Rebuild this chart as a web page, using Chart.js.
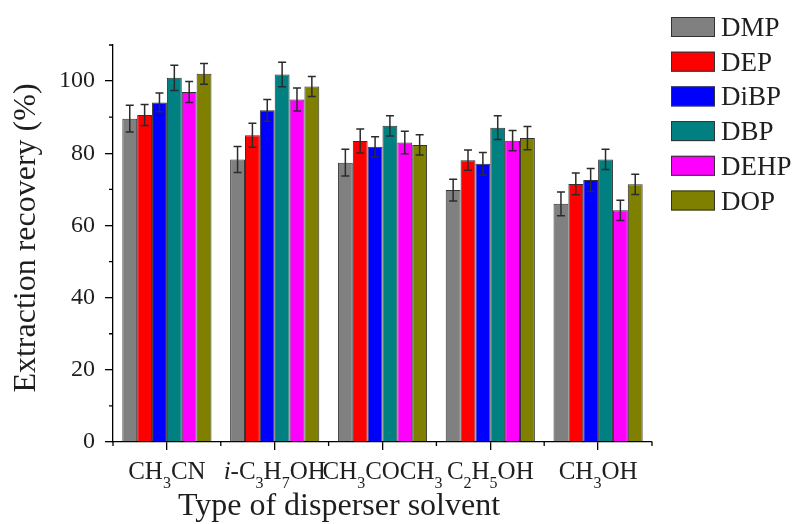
<!DOCTYPE html>
<html>
<head>
<meta charset="utf-8">
<script src="https://cdn.jsdelivr.net/npm/chart.js@4.4.0/dist/chart.umd.min.js"></script>
<style>
  html, body { margin: 0; padding: 0; background: #fff; }
  canvas { display: block; }
</style>
</head>
<body>
<canvas id="c" width="799" height="524"></canvas>
<script>
// Disperser solvents (digits are drawn as subscripts, a leading "i-" in italics)
const solvents = ['CH3CN', 'i-C3H7OH', 'CH3COCH3', 'C2H5OH', 'CH3OH'];
const seriesNames = ['DMP', 'DEP', 'DiBP', 'DBP', 'DEHP', 'DOP'];

// Extraction recovery (%) per solvent
const DMP  = [89.6, 78.3, 77.4, 69.8, 66.0];
const DEP  = [90.6, 85.0, 83.4, 78.1, 71.5];
const DiBP = [94.1, 91.9, 81.8, 77.1, 72.6];
const DBP  = [100.9, 101.8, 87.6, 87.1, 78.3];
const DEHP = [97.0, 94.9, 83.0, 83.5, 64.2];
const DOP  = [102.0, 98.5, 82.3, 84.2, 71.4];

// Standard deviations (error bars)
const errDMP  = [3.7, 3.6, 3.7, 3.0, 3.3];
const errDEP  = [2.9, 3.3, 3.3, 2.8, 3.0];
const errDiBP = [2.6, 3.0, 2.8, 3.1, 3.2];
const errDBP  = [3.5, 3.4, 2.8, 3.3, 2.8];
const errDEHP = [2.9, 3.2, 3.1, 2.8, 2.8];
const errDOP  = [2.9, 2.8, 2.8, 3.2, 2.8];

const yTickValues = [0, 20, 40, 60, 80, 100];
const yMinorValues = [10, 30, 50, 70, 90, 110];

const seriesValues = [DMP, DEP, DiBP, DBP, DEHP, DOP];
const seriesErrors = [errDMP, errDEP, errDiBP, errDBP, errDEHP, errDOP];
const seriesColors = ['#808080', '#ff0000', '#0000ff', '#008080', '#ff00ff', '#808000'];

const SERIF = '"Liberation Serif", "Times New Roman", serif';
const INK = '#1e1e1e';

// Error bars with caps
const errorBars = {
  id: 'errorBars',
  afterDatasetsDraw(chart) {
    const ctx = chart.ctx;
    const y = chart.scales.y;
    ctx.save();
    ctx.strokeStyle = '#2b2b2b';
    ctx.lineWidth = 1.5;
    chart.data.datasets.forEach((ds, i) => {
      const meta = chart.getDatasetMeta(i);
      meta.data.forEach((bar, j) => {
        const v = ds.data[j], e = ds.errors[j];
        const top = y.getPixelForValue(v + e);
        const bot = y.getPixelForValue(v - e);
        const x = bar.x;
        ctx.beginPath();
        ctx.moveTo(x, top); ctx.lineTo(x, bot);
        ctx.moveTo(x - 4, top); ctx.lineTo(x + 4, top);
        ctx.moveTo(x - 4, bot); ctx.lineTo(x + 4, bot);
        ctx.stroke();
      });
    });
    ctx.restore();
  }
};

// Minor ticks, chemical-formula category labels, axis titles and legend
function drawFormula(ctx, text, cx, baseY) {
  const segs = [];
  for (let k = 0; k < text.length; k++) {
    const ch = text[k];
    if (k === 0 && text.startsWith('i-')) segs.push({ t: ch, f: 'italic 25px ' + SERIF, dy: 0 });
    else if (/[0-9]/.test(ch)) segs.push({ t: ch, f: '16px ' + SERIF, dy: 9 });
    else segs.push({ t: ch, f: '25px ' + SERIF, dy: 0 });
  }
  let total = 0;
  segs.forEach(s => { ctx.font = s.f; s.w = ctx.measureText(s.t).width; total += s.w; });
  let x = cx - total / 2;
  ctx.textAlign = 'left';
  ctx.textBaseline = 'alphabetic';
  segs.forEach(s => { ctx.font = s.f; ctx.fillText(s.t, x, baseY + s.dy); x += s.w; });
}

const decorations = {
  id: 'decorations',
  afterDraw(chart) {
    const ctx = chart.ctx;
    const xs = chart.scales.x, ys = chart.scales.y;
    const area = chart.chartArea;
    ctx.save();
    ctx.strokeStyle = '#000';
    ctx.lineWidth = 1.3;
    ctx.beginPath();
    // y minor ticks
    yMinorValues.forEach(v => {
      const py = ys.getPixelForValue(v);
      ctx.moveTo(area.left - 4, py); ctx.lineTo(area.left, py);
    });
    // x minor ticks at category boundaries
    const n = solvents.length;
    const step = (area.right - area.left) / n;
    for (let k = 0; k <= n; k++) {
      const px = area.left + k * step;
      ctx.moveTo(px, area.bottom); ctx.lineTo(px, area.bottom + 4);
    }
    ctx.stroke();

    ctx.fillStyle = INK;
    solvents.forEach((s, i) => drawFormula(ctx, s, xs.getPixelForValue(i), 479));

    // axis titles
    ctx.font = '32px ' + SERIF;
    ctx.textAlign = 'center';
    ctx.textBaseline = 'alphabetic';
    ctx.fillText('Type of disperser solvent', 339, 515);
    ctx.save();
    ctx.translate(35, 238);
    ctx.rotate(-Math.PI / 2);
    ctx.fillText('Extraction recovery (%)', 0, 0);
    ctx.restore();

    // legend
    chart.data.datasets.forEach((ds, k) => {
      const by = 17 + k * 34.7;
      ctx.fillStyle = ds.backgroundColor;
      ctx.fillRect(671, by, 44, 20);
      ctx.strokeStyle = '#333';
      ctx.lineWidth = 1;
      ctx.strokeRect(671.5, by + 0.5, 43, 19);
      ctx.fillStyle = INK;
      ctx.font = '27px ' + SERIF;
      ctx.textAlign = 'left';
      ctx.fillText(ds.label, 721, by + 19);
    });
    ctx.restore();
  }
};

new Chart(document.getElementById('c'), {
  type: 'bar',
  data: {
    labels: solvents,
    datasets: seriesNames.map((name, i) => ({
      label: name,
      data: seriesValues[i],
      errors: seriesErrors[i],
      backgroundColor: seriesColors[i],
      borderColor: '#333333',
      borderWidth: 1,
      barPercentage: 1.0,
      categoryPercentage: 0.827
    }))
  },
  options: {
    responsive: false,
    animation: false,
    devicePixelRatio: 1,
    layout: { padding: { top: 45, right: 147, left: 0, bottom: 0 } },
    plugins: { legend: { display: false }, tooltip: { enabled: false } },
    scales: {
      x: {
        afterFit(s) { s.height = 82; },
        ticks: { display: false },
        grid: { display: true, drawOnChartArea: false, offset: false, tickLength: 8, color: '#000', lineWidth: 1.3 },
        border: { display: true, color: '#000', width: 1.3 }
      },
      y: {
        min: 0,
        max: 110,
        afterFit(s) { s.width = 113; },
        afterBuildTicks(s) { s.ticks = yTickValues.map(v => ({ value: v })); },
        ticks: { color: INK, font: { family: SERIF, size: 24 }, padding: 10 },
        grid: { display: true, drawOnChartArea: false, tickLength: 8, color: '#000', lineWidth: 1.3 },
        border: { display: true, color: '#000', width: 1.3 }
      }
    }
  },
  plugins: [errorBars, decorations]
});
</script>
</body>
</html>
